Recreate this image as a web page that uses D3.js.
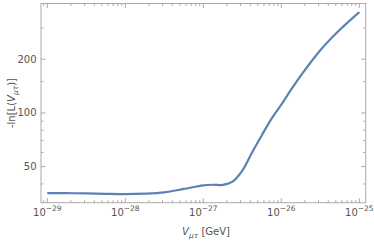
<!DOCTYPE html>
<meta charset="utf-8">
<style>
    body { margin: 0; background: #fff; }
    svg text { font-family: "DejaVu Sans", sans-serif; fill: #555; }
</style>
<svg id="chart" width="374" height="241"></svg>
<script src="https://cdn.jsdelivr.net/npm/d3@7"></script>
<script>

    // log10 of V_mu-tau in GeV, and -ln L
    var logV = [-29, -28.75, -28.5, -28.25, -28, -27.75, -27.5, -27.25, -27, -26.875, -26.75,
                -26.625, -26.5, -26.375, -26.25, -26.125, -26, -25.875, -25.75, -25.5, -25.25, -25];
    var negLnL = [35.5, 35.5, 35.4, 35.2, 35.1, 35.3, 35.9, 37.5, 39.3, 39.6, 39.5,
                  41.2, 47.5, 60, 75, 93, 111.5, 135, 162, 225, 293, 368];

    // ticks
    var xMajor = [-29, -28, -27, -26, -25];
    var yMajor = [50, 100, 200];
    var yMinor = [40, 60, 70, 80, 90, 150, 300];

    // note: "top" is reserved on window, so use pT/pB
    var pL = 41, pR = 365.7, pT = 3.5, pB = 202.7;

    var x = d3.scaleLog().domain([Math.pow(10, -29.081), Math.pow(10, -24.918)]).range([pL, pR]);
    var y = d3.scaleLog().domain([31.4, 411]).range([pB, pT]);

    var svg = d3.select("#chart");

    // minor x ticks 2..9 per decade
    var xMinor = [];
    for (var e = -30; e <= -25; e++) {
        for (var m = 2; m <= 9; m++) {
            var v = m * Math.pow(10, e);
            if (v > x.domain()[0] && v < x.domain()[1]) xMinor.push(v);
        }
    }

    var frame = svg.append("g");
    frame.append("rect")
        .attr("x", pL).attr("y", pT)
        .attr("width", pR - pL).attr("height", pB - pT)
        .style("fill", "none").style("stroke", "#aaa").style("stroke-width", 1);

    // ticks on all four sides
    function xTicks(vals, len) {
        frame.selectAll(null).data(vals).enter().append("line")
            .attr("x1", d => x(d)).attr("x2", d => x(d))
            .attr("y1", pB).attr("y2", pB - len)
            .style("stroke", "#aaa");
        frame.selectAll(null).data(vals).enter().append("line")
            .attr("x1", d => x(d)).attr("x2", d => x(d))
            .attr("y1", pT).attr("y2", pT + len)
            .style("stroke", "#aaa");
    }
    function yTicks(vals, len) {
        frame.selectAll(null).data(vals).enter().append("line")
            .attr("y1", d => y(d)).attr("y2", d => y(d))
            .attr("x1", pL).attr("x2", pL + len)
            .style("stroke", "#aaa");
        frame.selectAll(null).data(vals).enter().append("line")
            .attr("y1", d => y(d)).attr("y2", d => y(d))
            .attr("x1", pR).attr("x2", pR - len)
            .style("stroke", "#aaa");
    }
    xTicks(xMajor.map(d => Math.pow(10, d)), 4.5);
    xTicks(xMinor, 2.5);
    yTicks(yMajor, 4.5);
    yTicks(yMinor, 2.5);

    // x tick labels 10^n
    var xl = svg.selectAll(".xl").data(xMajor).enter().append("text")
        .attr("class", "xl")
        .attr("x", d => x(Math.pow(10, d)))
        .attr("y", 216)
        .attr("text-anchor", "middle")
        .style("font-size", "10px");
    xl.append("tspan").text("10");
    xl.append("tspan").attr("dy", -5).style("font-size", "7.5px").text(d => "\u2212" + (-d));

    svg.selectAll(".yl").data(yMajor).enter().append("text")
        .attr("class", "yl")
        .attr("x", 36.5)
        .attr("y", d => y(d) + 3.5)
        .attr("text-anchor", "end")
        .style("font-size", "10px")
        .text(d => d);

    // axis titles
    var xt = svg.append("text")
        .attr("x", 206).attr("y", 235)
        .attr("text-anchor", "middle")
        .style("font-size", "10px");
    xt.append("tspan").style("font-style", "italic").text("V");
    xt.append("tspan").attr("dy", 2.5).style("font-size", "7.5px").style("font-style", "italic").text("\u03bc\u03c4");
    xt.append("tspan").attr("dy", -2.5).text(" [GeV]");

    var yt = svg.append("text")
        .attr("transform", "translate(15,103) rotate(-90)")
        .attr("text-anchor", "middle")
        .style("font-size", "10px");
    yt.append("tspan").text("-ln[L(");
    yt.append("tspan").style("font-style", "italic").text("V");
    yt.append("tspan").attr("dy", 2.5).style("font-size", "7.5px").style("font-style", "italic").text("\u03bc\u03c4");
    yt.append("tspan").attr("dy", -2.5).text(")]");

    // the curve
    var pts = logV.map((d, i) => [Math.pow(10, d), negLnL[i]]);
    var line = d3.line()
        .x(d => x(d[0]))
        .y(d => y(d[1]))
        .curve(d3.curveCatmullRom.alpha(0.5));

    svg.append("path")
        .datum(pts)
        .attr("d", line)
        .style("fill", "none")
        .style("stroke", "#5e81b5")
        .style("stroke-width", 2.2);

</script>
